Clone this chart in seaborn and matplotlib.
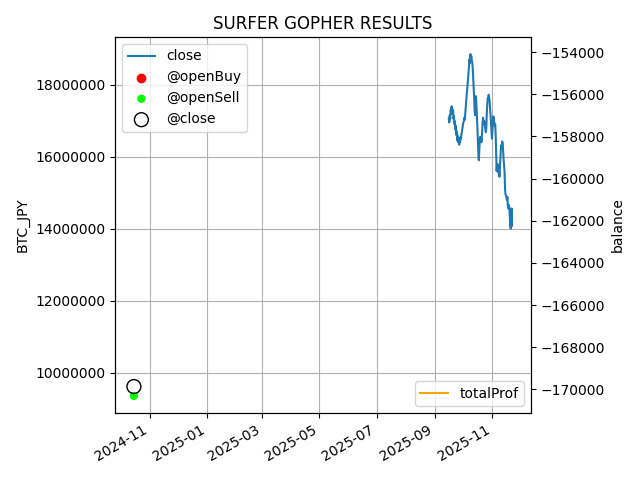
import matplotlib
matplotlib.use("Agg")
import matplotlib.pyplot as plt
import seaborn as sns
import pandas as pd
import numpy as np

# ---- data ----
close_start = "2025-09-16 00:00"
close_freq = "12h"
close_values_m = [
    17.06, 16.95, 17.15, 17.05, 17.30, 17.20, 17.40, 17.28, 17.20, 17.30,
    17.05, 17.12, 16.90, 16.98, 16.75, 16.85, 16.60, 16.70, 16.45, 16.58,
    16.40, 16.52, 16.33, 16.45, 16.40, 16.55, 16.50, 16.62, 16.70, 16.80,
    16.88, 16.95, 16.98, 17.08, 17.02, 17.20, 17.40, 17.55, 17.70, 17.85,
    18.00, 18.15, 18.35, 18.50, 18.70, 18.60, 18.85, 18.75, 18.80, 18.68,
    18.62, 18.45, 18.20, 17.90, 17.65, 17.30, 17.15, 17.55, 17.68, 17.40,
    17.15, 16.80, 16.45, 16.10, 15.90, 16.20, 16.45, 16.55, 16.40, 16.50,
    16.42, 16.70, 16.95, 17.08, 17.00, 16.90, 16.98, 16.85, 16.75, 16.68,
    16.80, 17.20, 17.45, 17.62, 17.58, 17.72, 17.65, 17.55, 17.35, 17.15,
    16.95, 16.70, 16.50, 16.70, 16.95, 17.12, 17.05, 16.95, 16.85, 16.90,
    16.60, 16.10, 15.60, 15.80, 15.70, 15.78, 15.55, 15.62, 15.44, 15.70,
    16.00, 16.20, 16.32, 16.25, 16.42, 16.35, 16.10, 15.90, 15.75, 15.55,
    15.10, 14.95, 14.92, 14.85, 14.80, 14.88, 14.62, 14.56, 14.66, 14.60,
    14.40, 14.10, 14.00, 14.30, 14.56, 14.08,
]

open_buy_dates = []
open_buy_prices = []
open_sell_dates = ["2024-10-15"]
open_sell_prices = [9350000]
close_trade_dates = ["2024-10-15"]
close_trade_prices = [9610000]

total_prof_dates = ["2024-10-15"]
total_prof_values = [-162200]

# ---- build frames ----
close_df = pd.DataFrame({
    "time": pd.date_range(close_start, periods=len(close_values_m), freq=close_freq),
    "close": np.array(close_values_m) * 1_000_000,
})
sell_df = pd.DataFrame({"time": pd.to_datetime(open_sell_dates), "price": open_sell_prices})
ctr_df = pd.DataFrame({"time": pd.to_datetime(close_trade_dates), "price": close_trade_prices})
prof_df = pd.DataFrame({"time": pd.to_datetime(total_prof_dates), "totalProf": total_prof_values})

fig, ax = plt.subplots(figsize=(6.4, 4.8), dpi=100)

sns.lineplot(data=close_df, x="time", y="close", ax=ax, color="#1f77b4", label="close", legend=False)
h_buy = ax.scatter(pd.to_datetime(open_buy_dates), open_buy_prices, color="red", s=36, label="@openBuy")
sns.scatterplot(data=sell_df, x="time", y="price", ax=ax, color="#00ff00", s=36,
                edgecolor="none", label="@openSell", legend=False)
sns.scatterplot(data=ctr_df, x="time", y="price", ax=ax, facecolor="none", edgecolor="black",
                s=100, linewidth=1.0, label="@close", legend=False)

ax.set_title("SURFER GOPHER RESULTS")
ax.set_ylabel("BTC_JPY")
ax.set_xlabel("")
ax.grid(True, color="#b0b0b0")
ax.ticklabel_format(axis="y", style="plain", useOffset=False)
ax.legend(loc="upper left")

ax2 = ax.twinx()
sns.lineplot(data=prof_df, x="time", y="totalProf", ax=ax2, color="orange", label="totalProf", legend=False)
ax2.set_ylabel("balance")
ax2.ticklabel_format(axis="y", style="plain", useOffset=False)
ax2.legend(loc="lower right")

for lab in ax.get_xticklabels():
    lab.set_rotation(30)
    lab.set_ha("right")
ax.set_xlabel("")

fig.subplots_adjust(left=115/640, right=531/640, top=1-37/480, bottom=1-413/480)
fig.savefig("out.png", dpi=100)
